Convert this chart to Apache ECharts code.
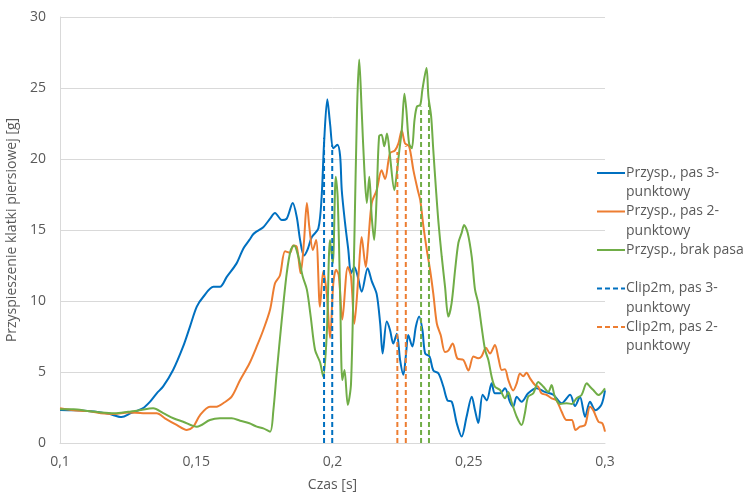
<!DOCTYPE html>
<html>
<head>
<meta charset="UTF-8">
<title>Przyspieszenie klatki piersiowej</title>
<script src="https://cdn.jsdelivr.net/npm/echarts@6/dist/echarts.min.js"></script>
<style>
  html, body { margin: 0; padding: 0; background: #fff; }
</style>
</head>
<body>
<div id="main" style="width: 746px;height:493px;"></div>
<script type="text/javascript">
// czas [s], przyspieszenie [g]
var pas3 = [
  [0.100, 2.32], [0.105, 2.3], [0.110, 2.25], [0.115, 2.15], [0.118, 2.05], [0.1226, 1.83], [0.126, 2.1],
  [0.1305, 2.46], [0.133, 2.9], [0.1355, 3.5], [0.1378, 3.97], [0.1415, 5.14], [0.1452, 6.8], [0.1477, 8.2],
  [0.1502, 9.6], [0.1526, 10.3], [0.1563, 11.0], [0.1587, 11.0], [0.1612, 11.7], [0.1648, 12.65], [0.1673, 13.7],
  [0.1695, 14.3], [0.1709, 14.7], [0.1722, 14.9], [0.1746, 15.2], [0.1771, 15.8], [0.1789, 16.2], [0.1814, 15.7],
  [0.1832, 15.8], [0.1854, 16.9], [0.1869, 15.9], [0.1881, 14.3], [0.1895, 13.2], [0.1908, 13.6], [0.1924, 14.5],
  [0.1948, 15.1], [0.196, 17.3], [0.1969, 21.1], [0.1981, 24.2], [0.1991, 22.5], [0.2003, 20.75], [0.2018, 21.0],
  [0.2028, 20.2], [0.2034, 17.8], [0.2046, 15.5], [0.2058, 13.6], [0.2068, 11.95], [0.208, 12.4], [0.2093, 11.7],
  [0.2107, 10.65], [0.2129, 12.3], [0.2144, 11.4], [0.2162, 10.5], [0.2175, 8.4], [0.2184, 6.3], [0.2199, 8.55],
  [0.2211, 7.96], [0.2223, 7.0], [0.2236, 7.7], [0.2248, 5.85], [0.226, 4.8], [0.227, 6.3], [0.2278, 7.6],
  [0.2293, 6.8], [0.2306, 8.2], [0.2318, 8.9], [0.233, 7.96], [0.234, 6.3], [0.2356, 6.1], [0.237, 5.1],
  [0.2389, 4.9], [0.2407, 3.96], [0.2422, 3.0], [0.2438, 2.9], [0.2456, 1.39], [0.2474, 0.45], [0.2492, 1.85],
  [0.2511, 3.26], [0.2523, 2.3], [0.2535, 1.4], [0.2551, 3.4], [0.2566, 3.0], [0.2584, 4.2], [0.2596, 3.5],
  [0.2615, 3.5], [0.2633, 3.85], [0.2651, 2.9], [0.2663, 2.56], [0.2676, 3.26], [0.2694, 2.9], [0.2718, 3.5],
  [0.2749, 3.85], [0.2779, 3.6], [0.281, 3.4], [0.2841, 2.8], [0.2872, 3.4], [0.289, 2.6], [0.2908, 3.26],
  [0.2927, 1.85], [0.2945, 2.9], [0.2965, 2.3], [0.2987, 2.7], [0.300, 3.7]
];
var pas2 = [
  [0.100, 2.44], [0.105, 2.3], [0.110, 2.25], [0.115, 2.1], [0.120, 2.05], [0.125, 2.15], [0.1305, 2.1],
  [0.1355, 2.1], [0.1385, 1.74], [0.1428, 1.27], [0.1465, 0.92], [0.1489, 1.15], [0.1514, 1.97], [0.155, 2.56],
  [0.1575, 2.56], [0.1599, 2.8], [0.163, 3.26], [0.1661, 4.44], [0.1695, 5.6], [0.1722, 6.8], [0.1746, 7.96],
  [0.1771, 9.4], [0.1789, 11.25], [0.1807, 11.8], [0.1826, 13.5], [0.1844, 13.4], [0.1856, 13.9], [0.1869, 13.8],
  [0.1883, 11.95], [0.1895, 14.1], [0.1906, 16.9], [0.1915, 15.2], [0.1928, 13.6], [0.194, 14.3], [0.1954, 9.6],
  [0.1966, 12.1], [0.1979, 10.5], [0.1991, 7.4], [0.2003, 11.25], [0.2013, 12.2], [0.2023, 11.8], [0.2036, 8.7],
  [0.2056, 12.4], [0.2068, 11.7], [0.208, 8.4], [0.2095, 11.7], [0.2107, 14.5], [0.2122, 12.4], [0.2131, 14.1],
  [0.2144, 16.9], [0.2162, 17.8], [0.218, 19.2], [0.2193, 18.6], [0.2211, 20.4], [0.2229, 20.6], [0.2242, 21.1],
  [0.2254, 22.0], [0.2266, 21.1], [0.2281, 20.9], [0.2297, 19.2], [0.2313, 17.8], [0.2322, 17.1], [0.2334, 15.2],
  [0.2346, 13.6], [0.2358, 12.2], [0.237, 10.5], [0.2383, 8.4], [0.2397, 7.6], [0.2413, 6.4], [0.2425, 6.5],
  [0.2441, 7.0], [0.2458, 5.96], [0.248, 5.85], [0.2499, 5.1], [0.2517, 6.1], [0.2535, 5.96], [0.2547, 6.1],
  [0.2563, 6.7], [0.2578, 6.3], [0.2596, 6.9], [0.2609, 5.96], [0.2621, 5.14], [0.2633, 5.2], [0.2645, 4.44],
  [0.2663, 3.7], [0.2676, 4.2], [0.2688, 4.9], [0.27, 4.7], [0.2712, 4.95], [0.2725, 4.55], [0.2743, 4.08],
  [0.2755, 3.96], [0.2767, 3.5], [0.2786, 3.38], [0.2804, 3.15], [0.2822, 3.0], [0.2841, 2.2], [0.2859, 1.62],
  [0.2878, 1.62], [0.2892, 0.92], [0.2908, 1.15], [0.2927, 1.27], [0.2945, 2.56], [0.2957, 2.3], [0.2976, 1.5],
  [0.299, 1.39], [0.300, 0.8]
];
var brakPasa = [
  [0.100, 2.37], [0.105, 2.37], [0.110, 2.25], [0.115, 2.15], [0.120, 2.1], [0.125, 2.2], [0.129, 2.3],
  [0.1342, 2.44], [0.1379, 2.1], [0.1416, 1.74], [0.1452, 1.5], [0.1502, 1.15], [0.155, 1.62], [0.1587, 1.74],
  [0.163, 1.74], [0.1661, 1.57], [0.1695, 1.39], [0.1722, 1.15], [0.1746, 1.03], [0.1771, 0.8], [0.1783, 2.3],
  [0.1795, 4.9], [0.1814, 8.7], [0.1832, 11.95], [0.1847, 13.6], [0.1859, 13.9], [0.1875, 13.1], [0.1891, 11.7],
  [0.1906, 10.8], [0.192, 8.9], [0.1936, 6.55], [0.1954, 5.7], [0.1966, 4.67], [0.1979, 7.7], [0.1991, 14.3],
  [0.2001, 12.65], [0.2012, 18.75], [0.2019, 17.3], [0.2028, 10.5], [0.2036, 4.44], [0.2044, 5.14], [0.2056, 2.68],
  [0.2068, 4.2], [0.208, 14.1], [0.209, 23.45], [0.2098, 27.0], [0.2107, 23.45], [0.2117, 19.2], [0.2126, 16.9],
  [0.2135, 18.75], [0.2144, 15.9], [0.2153, 14.3], [0.2162, 17.3], [0.2171, 21.6], [0.218, 21.7], [0.219, 20.9],
  [0.22, 21.8], [0.2211, 20.2], [0.2227, 17.8], [0.2236, 19.0], [0.2244, 20.4], [0.2254, 22.0], [0.2264, 24.6],
  [0.2271, 23.45], [0.2281, 21.1], [0.2291, 20.75], [0.2301, 22.75], [0.231, 23.7], [0.2322, 23.8], [0.233, 24.9],
  [0.2345, 26.4], [0.2352, 24.4], [0.2362, 23.0], [0.237, 20.6], [0.238, 17.8], [0.2389, 15.5], [0.2401, 13.1],
  [0.2413, 11.0], [0.2425, 8.9], [0.2437, 9.84], [0.245, 12.2], [0.2462, 14.1], [0.2474, 14.8], [0.2483, 15.35],
  [0.2496, 14.8], [0.2511, 13.1], [0.2523, 10.8], [0.2535, 9.84], [0.2547, 8.2], [0.256, 6.55], [0.2572, 5.85],
  [0.2584, 4.67], [0.2596, 3.96], [0.2615, 3.73], [0.2633, 3.15], [0.2645, 3.6], [0.2657, 2.9], [0.2676, 1.85],
  [0.2694, 1.27], [0.2706, 2.1], [0.2718, 3.26], [0.2737, 3.5], [0.2755, 4.3], [0.2774, 3.96], [0.2792, 3.6],
  [0.2804, 4.08], [0.2816, 3.26], [0.2835, 2.75], [0.2859, 2.8], [0.2878, 2.75], [0.2896, 3.15], [0.2914, 3.38],
  [0.2933, 4.2], [0.2945, 3.96], [0.2957, 3.73], [0.2976, 3.38], [0.300, 3.85]
];
// Clip2m: dwa momenty (czas, wartość) dla każdego wariantu
var clipPas3 = [[0.1969, 21.5], [0.1999, 21.0]];
var clipPas2 = [[0.2238, 20.5], [0.2269, 20.9]];
var clipBrak = [[0.2325, 23.7], [0.2354, 24.0]];

var xTicks = [0.1, 0.15, 0.2, 0.25, 0.3];
var yTicks = [0, 5, 10, 15, 20, 25, 30];

var BLUE = '#0070C0', ORANGE = '#ED7D31', GREEN = '#70AD47';
var FONT = 'Open Sans';

// pionowe odcinki od 0 do wartości, przerwa między nimi
function pionowe(points) {
  var out = [];
  points.forEach(function (p, i) {
    if (i > 0) out.push([p[0], '-']);
    out.push([p[0], 0], [p[0], p[1]]);
  });
  return out;
}

function curve(name, data, color) {
  return {
    name: name, type: 'line', data: data, smooth: 0.3, showSymbol: false, symbol: 'none',
    lineStyle: { color: color, width: 2 }, itemStyle: { color: color }, z: 2
  };
}
function dashed(name, data, color) {
  return {
    name: name, type: 'line', data: pionowe(data), showSymbol: false, symbol: 'none', connectNulls: false,
    lineStyle: { color: color, width: 2, type: [5, 3] }, itemStyle: { color: color }, z: 3
  };
}

// legenda jak w Excelu (ostatnia pozycja ucięta)
var legend = [
  { color: BLUE, dash: false, y: 173, text: 'Przysp., pas 3-\npunktowy' },
  { color: ORANGE, dash: false, y: 211.5, text: 'Przysp., pas 2-\npunktowy' },
  { color: GREEN, dash: false, y: 250, text: 'Przysp., brak pasa' },
  { color: BLUE, dash: true, y: 288.5, text: 'Clip2m, pas 3-\npunktowy' },
  { color: ORANGE, dash: true, y: 327, text: 'Clip2m, pas 2-\npunktowy' }
];
var graphics = [];
legend.forEach(function (l) {
  graphics.push({
    type: 'line', shape: { x1: 597, y1: l.y, x2: 625, y2: l.y },
    style: { stroke: l.color, lineWidth: 2, lineDash: l.dash ? [5, 3] : null }
  });
  graphics.push({
    type: 'text', x: 626, y: l.y - 10,
    style: { text: l.text, fill: '#595959', font: '14px "' + FONT + '"', lineHeight: 19.5, verticalAlign: 'top' }
  });
});

var myChart = echarts.init(document.getElementById('main'));
var option = {
  animation: false,
  textStyle: { fontFamily: FONT },
  grid: { left: 60, right: 141, top: 17, bottom: 50, containLabel: false, outerBoundsMode: 'none' },
  xAxis: {
    type: 'value', min: xTicks[0], max: xTicks[xTicks.length - 1], interval: 0.05,
    name: 'Czas [s]', nameLocation: 'middle', nameGap: 35,
    nameTextStyle: { color: '#595959', fontSize: 14, fontFamily: FONT },
    axisLine: { lineStyle: { color: '#D9D9D9', width: 1 } },
    axisTick: { show: false },
    splitLine: { show: false },
    axisLabel: {
      color: '#595959', fontSize: 14, margin: 12, fontFamily: FONT,
      formatter: function (v) { return String(+v.toFixed(2)).replace('.', ','); }
    }
  },
  yAxis: {
    type: 'value', min: yTicks[0], max: yTicks[yTicks.length - 1], interval: 5,
    name: 'Przyspieszenie klatki piersiowej [g]', nameLocation: 'middle', nameGap: 31,
    nameTextStyle: { color: '#595959', fontSize: 14, fontFamily: FONT },
    axisLine: { show: true, lineStyle: { color: '#D9D9D9', width: 1 } },
    axisTick: { show: false },
    splitLine: { lineStyle: { color: '#D9D9D9', width: 1 } },
    axisLabel: { color: '#595959', fontSize: 14, margin: 14, fontFamily: FONT }
  },
  graphic: graphics,
  series: [
    curve('Przysp., pas 3-punktowy', pas3, BLUE),
    curve('Przysp., pas 2-punktowy', pas2, ORANGE),
    curve('Przysp., brak pasa', brakPasa, GREEN),
    dashed('Clip2m, pas 3-punktowy', clipPas3, BLUE),
    dashed('Clip2m, pas 2-punktowy', clipPas2, ORANGE),
    dashed('Clip2m, brak pasa', clipBrak, GREEN)
  ]
};
myChart.setOption(option);
</script>
</body>
</html>
